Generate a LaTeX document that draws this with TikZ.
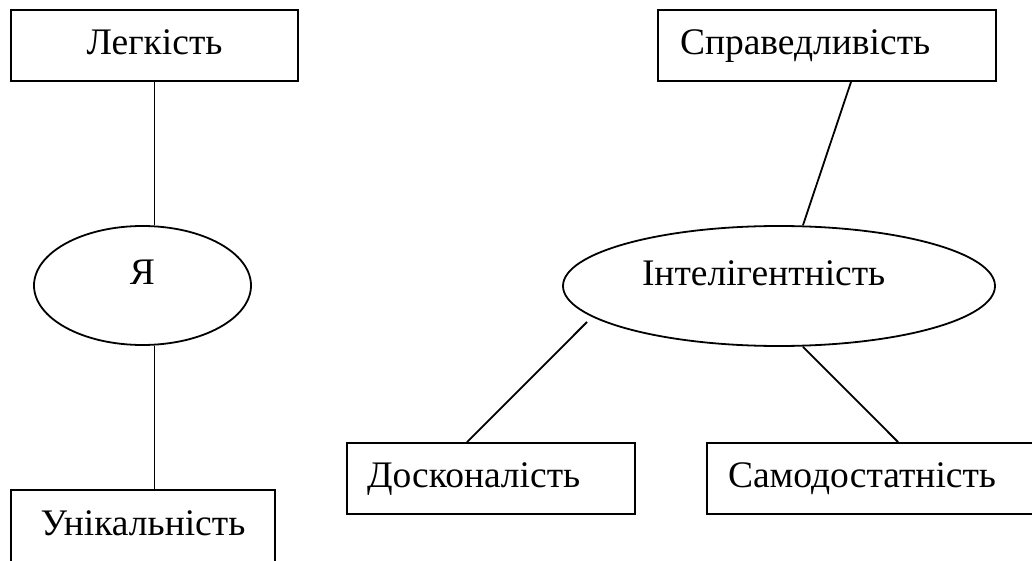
\documentclass[tikz,border=0pt]{standalone}
\usepackage{fontspec}
\setmainfont{Liberation Serif}
\usetikzlibrary{calc,shapes.geometric}
\begin{document}
\begin{tikzpicture}[x=1pt,y=-1pt,line width=1.8pt,
  every node/.style={font=\fontsize{37.5}{45}\selectfont,text height=28pt,text depth=9.5pt},
  wbox/.style={draw,rectangle,inner ysep=0pt},
  oval/.style={draw,ellipse,inner sep=0pt}]
\clip (0,0) rectangle (1032,561);
\fill[white] (0,0) rectangle (1032,561);
% boxes
\node[wbox,minimum width=287pt,minimum height=71pt,inner xsep=0pt,text width=287pt,align=center] (leg) at (154.5,45.5) {Легкість};
\node[wbox,minimum width=264pt,minimum height=73pt,inner xsep=0pt,text width=264pt,align=center] (uni) at (143,526.5) {Унікальність};
\node[wbox,minimum width=338pt,minimum height=71pt,inner xsep=22pt,text width=294pt,align=left] (spr) at (827,45.5) {Справедливість};
\node[wbox,minimum width=288pt,minimum height=71pt,inner xsep=20pt,text width=248pt,align=left] (dos) at (491,478.5) {Досконалість};
\node[wbox,minimum width=338pt,minimum height=71pt,inner xsep=21pt,text width=296pt,align=left] (samo) at (876,478.5) {Самодостатність};
% ellipses
\node[oval,minimum width=217pt,minimum height=119pt,text height=28pt,text depth=31pt] (ya) at (142.5,285.5) {Я};
\node[oval,minimum width=432pt,minimum height=120pt,text height=28pt,text depth=30pt,text width=274pt,align=left] (int) at (779,286) {Інтелігентність};
% connectors
\draw (leg.south) -- (leg.south |- ya.north);
\draw (leg.south |- ya.south) -- (leg.south |- uni.north);
\draw ($(spr.south)+(24,0)$) -- ($(int.north)+(24,0)$);
\draw ($(int.center)+(-192,36)$) -- ($(dos.north)+(-24,0)$);
\draw ($(int.south)+(24,0)$) -- ($(samo.north west)+(192,0)$);
\end{tikzpicture}
\end{document}
